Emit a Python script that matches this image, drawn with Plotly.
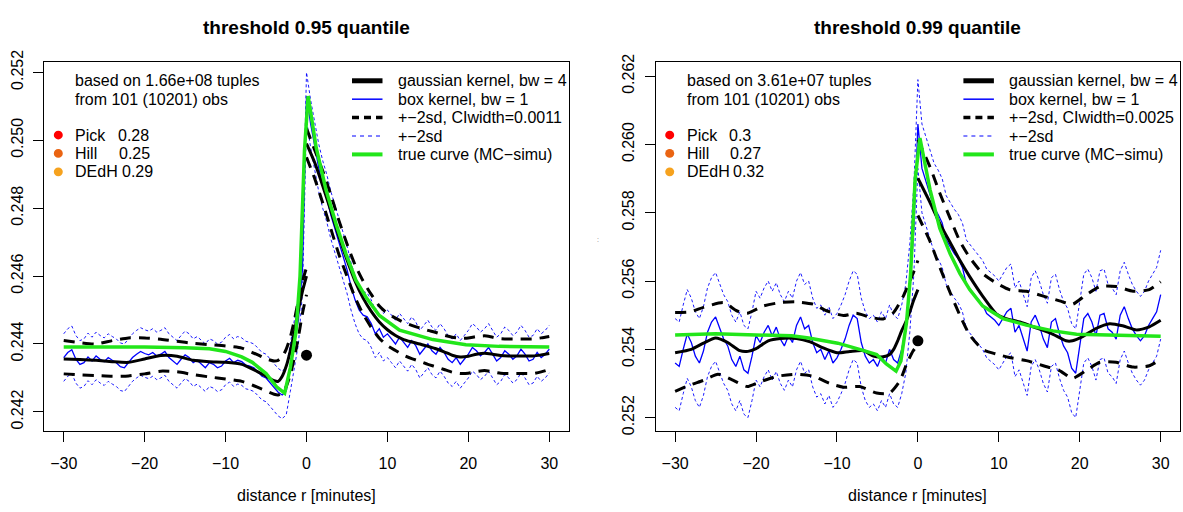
import plotly.graph_objects as go

W, H = 1183, 512
FONT = "Liberation Sans, Arial, Helvetica, sans-serif"

# ------------------------------------------------------------------
# DATA
# ------------------------------------------------------------------
# common grid of the box-kernel estimate (minutes)
box_r = [i * 0.5 for i in range(-60, 61)]

# ---------- threshold 0.95 quantile ----------
box95 = [
    0.24360, 0.24375, 0.24383, 0.24355, 0.24340, 0.24345, 0.24362, 0.24350, 0.24365, 0.24355,
    0.24348, 0.24360, 0.24352, 0.24345, 0.24333, 0.24330, 0.24345, 0.24360, 0.24370, 0.24378,
    0.24372, 0.24368, 0.24375, 0.24365, 0.24370, 0.24378, 0.24360, 0.24350, 0.24340, 0.24355,
    0.24368, 0.24360, 0.24345, 0.24352, 0.24340, 0.24330, 0.24345, 0.24340, 0.24330, 0.24335,
    0.24350, 0.24358, 0.24345, 0.24352, 0.24348, 0.24338, 0.24335, 0.24330, 0.24318, 0.24305,
    0.24300, 0.24285, 0.24272, 0.24258, 0.24250, 0.24262, 0.24330, 0.24400, 0.24470, 0.24620,
    0.25130,
    0.25050, 0.24980, 0.24920, 0.24870, 0.24830, 0.24780, 0.24740, 0.24700, 0.24660, 0.24620,
    0.24570, 0.24530, 0.24500, 0.24485, 0.24480, 0.24460, 0.24430, 0.24445, 0.24420, 0.24430,
    0.24415, 0.24400, 0.24420, 0.24405, 0.24390, 0.24410, 0.24395, 0.24370, 0.24385, 0.24400,
    0.24380, 0.24370, 0.24390, 0.24375, 0.24355, 0.24345, 0.24360, 0.24340, 0.24355, 0.24370,
    0.24390, 0.24380, 0.24365, 0.24375, 0.24390, 0.24370, 0.24350, 0.24360, 0.24380, 0.24370,
    0.24355, 0.24365, 0.24385, 0.24370, 0.24350, 0.24355, 0.24375, 0.24360, 0.24370, 0.24385,
]
box95_2sd = 0.0007

g95_left_r = [-30, -28, -26, -24, -22, -20, -18, -16, -14, -12, -10, -8, -7, -6, -5, -4,
              -3.5, -3, -2.5, -2, -1.5, -1, -0.5, 0]
g95_left = [0.24356, 0.24354, 0.24352, 0.24348, 0.24346, 0.24356, 0.24366, 0.24364, 0.24352,
            0.24348, 0.24346, 0.24340, 0.24330, 0.24318, 0.24305, 0.24292, 0.24290, 0.24305,
            0.24335, 0.24380, 0.24435, 0.24500, 0.24555, 0.24600]
g95_left_up = [0.24410, 0.24404, 0.24400, 0.24410, 0.24418, 0.24418, 0.24414, 0.24408, 0.24402,
               0.24398, 0.24394, 0.24388, 0.24378, 0.24368, 0.24356, 0.24350, 0.24352, 0.24362,
               0.24385, 0.24420, 0.24470, 0.24530, 0.24585, 0.24625]
g95_left_lo = [0.24312, 0.24309, 0.24307, 0.24305, 0.24306, 0.24312, 0.24320, 0.24318, 0.24310,
               0.24303, 0.24297, 0.24290, 0.24282, 0.24272, 0.24262, 0.24252, 0.24250, 0.24255,
               0.24275, 0.24310, 0.24360, 0.24420, 0.24490, 0.24545]

g95_right_r = list(range(0, 31))
g95_right = [0.24990, 0.24935, 0.24866, 0.24793, 0.24717, 0.24648, 0.24585, 0.24535, 0.24496,
             0.24465, 0.24442, 0.24425, 0.24413, 0.24406, 0.24400, 0.24393, 0.24386, 0.24377,
             0.24367, 0.24362, 0.24364, 0.24370, 0.24373, 0.24370, 0.24366, 0.24365, 0.24365,
             0.24365, 0.24365, 0.24368, 0.24372]
g95_right_up = [0.25035, 0.24972, 0.24910, 0.24840, 0.24764, 0.24695, 0.24633, 0.24585, 0.24546,
                0.24512, 0.24490, 0.24476, 0.24464, 0.24455, 0.24447, 0.24440, 0.24434, 0.24426,
                0.24420, 0.24417, 0.24418, 0.24422, 0.24424, 0.24420, 0.24416, 0.24415, 0.24415,
                0.24415, 0.24415, 0.24418, 0.24422]
g95_right_lo = [0.24950, 0.24888, 0.24816, 0.24740, 0.24664, 0.24600, 0.24537, 0.24488, 0.24449,
                0.24417, 0.24395, 0.24381, 0.24367, 0.24357, 0.24349, 0.24340, 0.24333, 0.24325,
                0.24317, 0.24313, 0.24314, 0.24319, 0.24322, 0.24318, 0.24314, 0.24313, 0.24313,
                0.24313, 0.24313, 0.24318, 0.24325]

true95_r = [-30, -25, -20, -15, -12, -10, -8, -6.7, -5, -3.7, -2.7, -2.0, -1.3, -0.8, -0.5,
            -0.25, 0.2, 1.2, 2.4, 3.7, 4.9, 6.1, 7.4, 9, 11.5, 15.6, 19.7, 23.8, 30]
true95 = [0.24391, 0.24392, 0.24391, 0.24389, 0.24386, 0.24378, 0.24362, 0.24346, 0.24313,
          0.24274, 0.24255, 0.24330, 0.24436, 0.24600, 0.24780, 0.24970, 0.25130, 0.24978,
          0.24855, 0.24750, 0.24664, 0.24588, 0.24536, 0.24484, 0.24441, 0.24413, 0.24398,
          0.24393, 0.24391]
obs95_r, obs95 = [0], [0.24367]

# ---------- threshold 0.99 quantile ----------
box99 = [
    0.25360, 0.25350, 0.25400, 0.25445, 0.25420, 0.25380, 0.25360, 0.25395, 0.25450, 0.25480,
    0.25495, 0.25460, 0.25430, 0.25410, 0.25370, 0.25350, 0.25380, 0.25340, 0.25330, 0.25380,
    0.25440, 0.25420, 0.25450, 0.25470, 0.25440, 0.25465, 0.25430, 0.25410, 0.25440, 0.25420,
    0.25470, 0.25495, 0.25460, 0.25470, 0.25420, 0.25390, 0.25400, 0.25370, 0.25395, 0.25360,
    0.25375, 0.25400, 0.25430, 0.25470, 0.25500, 0.25490, 0.25420, 0.25380, 0.25360, 0.25370,
    0.25350, 0.25380, 0.25360, 0.25400, 0.25370, 0.25360, 0.25400, 0.25460, 0.25580, 0.25750,
    0.26060,
    0.25930, 0.25890, 0.25850, 0.25815, 0.25795, 0.25770, 0.25720, 0.25700, 0.25680, 0.25665,
    0.25640, 0.25590, 0.25575, 0.25560, 0.25545, 0.25530, 0.25505, 0.25495, 0.25485, 0.25470,
    0.25490, 0.25510, 0.25520, 0.25450, 0.25470, 0.25430, 0.25395, 0.25480, 0.25500, 0.25470,
    0.25430, 0.25405, 0.25480, 0.25490, 0.25445, 0.25410, 0.25390, 0.25345, 0.25330, 0.25410,
    0.25490, 0.25505, 0.25480, 0.25440, 0.25500, 0.25505, 0.25460, 0.25450, 0.25430, 0.25500,
    0.25525, 0.25490, 0.25460, 0.25440, 0.25425, 0.25440, 0.25470, 0.25490, 0.25510, 0.25560,
]
box99_2sd = 0.0013

g99_left_r = [-30, -28, -26.5, -25, -23.5, -22, -21, -20, -18.5, -17, -15, -13.3, -11.7, -10,
              -8.4, -6.7, -5.5, -4.3, -3.5, -3, -2.5, -2, -1.5, -1, -0.5, 0]
g99_left = [0.25390, 0.25400, 0.25418, 0.25433, 0.25420, 0.25396, 0.25394, 0.25402, 0.25425,
            0.25432, 0.25432, 0.25422, 0.25404, 0.25390, 0.25394, 0.25396, 0.25380, 0.25378,
            0.25385, 0.25400, 0.25425, 0.25455, 0.25480, 0.25510, 0.25545, 0.25575]
g99_left_up_r = [-30, -28.1, -26.5, -24, -22.4, -21.1, -19.1, -17, -15, -12.9, -11.3, -9.2,
                 -7.6, -5.9, -4.3, -3, -1.8, -0.6, 0]
g99_left_up = [0.25508, 0.25510, 0.25523, 0.25537, 0.25513, 0.25506, 0.25527, 0.25537, 0.25539,
               0.25532, 0.25513, 0.25499, 0.25506, 0.25494, 0.25489, 0.25508, 0.25556, 0.25622,
               0.25660]
g99_left_lo_r = [-30, -28.1, -26.5, -24.7, -22.8, -21.1, -19.5, -17.4, -15, -12.9, -10.9, -9.2,
                 -7.2, -5.1, -3.5, -2.2, -1.4, -0.6, 0]
g99_left_lo = [0.25277, 0.25296, 0.25309, 0.25327, 0.25309, 0.25291, 0.25305, 0.25321, 0.25327,
               0.25321, 0.25300, 0.25289, 0.25291, 0.25272, 0.25272, 0.25309, 0.25357, 0.25395,
               0.25414]

g99_right_r = [0, 1.5, 2.7, 4.0, 5.2, 6.4, 8.0, 9.7, 10.9, 12.6, 14.6, 16.7, 18.3, 19.1, 20.4,
               22, 23.7, 25.3, 27, 28.6, 30]
g99_right = [0.25901, 0.25830, 0.25769, 0.25712, 0.25660, 0.25613, 0.25556, 0.25504, 0.25490,
             0.25480, 0.25463, 0.25444, 0.25425, 0.25425, 0.25438, 0.25461, 0.25475, 0.25469,
             0.25457, 0.25466, 0.25485]
g99_right_band_r = [0, 1.5, 2.7, 4.0, 5.2, 6.4, 8.0, 9.7, 11.3, 13.4, 15.5, 17.5, 19.1, 20.8,
                    22.5, 24.5, 26.6, 28.6, 30]
g99_right_up = [0.26014, 0.25934, 0.25858, 0.25783, 0.25716, 0.25669, 0.25622, 0.25594, 0.25575,
                0.25570, 0.25556, 0.25542, 0.25532, 0.25560, 0.25584, 0.25584, 0.25570, 0.25575,
                0.25598]
g99_right_lo = [0.25792, 0.25716, 0.25641, 0.25565, 0.25499, 0.25442, 0.25400, 0.25386, 0.25376,
                0.25367, 0.25352, 0.25338, 0.25315, 0.25338, 0.25362, 0.25362, 0.25348, 0.25352,
                0.25371]

true99_r = [-30, -25, -20, -15.6, -13.5, -9.9, -7.1, -5.1, -3.9, -2.7, -2.1, -1.4, -0.9, -0.6,
            -0.35, 0.25, 1.5, 2.7, 4.0, 5.2, 6.4, 8.0, 10.5, 13.4, 16.7, 19.6, 23.7, 30]
true99 = [0.25442, 0.25446, 0.25442, 0.25440, 0.25433, 0.25418, 0.25399, 0.25385, 0.25357,
          0.25336, 0.25366, 0.25480, 0.25622, 0.25764, 0.25896, 0.26019, 0.25868, 0.25755,
          0.25679, 0.25622, 0.25575, 0.25527, 0.25490, 0.25471, 0.25454, 0.25444, 0.25442,
          0.25438]
obs99_r, obs99 = [0], [0.25425]

# annotations text
titles = ["threshold 0.95 quantile", "threshold 0.99 quantile"]
xlab = "distance r [minutes]"
tuples_txt = ["based on 1.66e+08 tuples", "based on 3.61e+07 tuples"]
obs_txt = "from 101 (10201) obs"
est_names = ["Pick", "Hill", "DEdH"]
est_vals = [["0.28", "0.25", "0.29"], ["0.3", "0.27", "0.32"]]
est_cols = ["#FF0000", "#EA6412", "#F6A21E"]
leg_labels = [
    ["gaussian kernel, bw = 4", "box kernel, bw = 1", "+\u22122sd, CIwidth=0.0011",
     "+\u22122sd", "true curve (MC\u2212simu)"],
    ["gaussian kernel, bw = 4", "box kernel, bw = 1", "+\u22122sd, CIwidth=0.0025",
     "+\u22122sd", "true curve (MC\u2212simu)"],
]
x_ticks = [-30, -20, -10, 0, 10, 20, 30]
y_ticks = [[0.242, 0.244, 0.246, 0.248, 0.250, 0.252],
           [0.252, 0.254, 0.256, 0.258, 0.260, 0.262]]

# ------------------------------------------------------------------
# STYLE / LAYOUT
# ------------------------------------------------------------------
BLUE = "#0000FF"
GREEN = "#22E61A"

# plot boxes in pixels (left, right, top, bottom)
boxes = [(44.3, 568.7, 51.7, 432.3), (655.7, 1180.1, 51.7, 432.3)]
y_ranges = [[0.241444, 0.252302], [0.251614, 0.262414]]
x_range = [-32.4, 32.4]


def px(x):
    return x / W


def py(y):
    return 1 - y / H


fig = go.Figure()

panels = [
    dict(box=box95, sd=box95_2sd,
         gl=(g95_left_r, g95_left, g95_left_r, g95_left_up, g95_left_r, g95_left_lo),
         gr=(g95_right_r, g95_right, g95_right_r, g95_right_up, g95_right_r, g95_right_lo),
         tr=(true95_r, true95), ob=(obs95_r, obs95)),
    dict(box=box99, sd=box99_2sd,
         gl=(g99_left_r, g99_left, g99_left_up_r, g99_left_up, g99_left_lo_r, g99_left_lo),
         gr=(g99_right_r, g99_right, g99_right_band_r, g99_right_up, g99_right_band_r, g99_right_lo),
         tr=(true99_r, true99), ob=(obs99_r, obs99)),
]

for i, p in enumerate(panels):
    xa = "x" if i == 0 else "x2"
    ya = "y" if i == 0 else "y2"
    up = [v + p["sd"] for v in p["box"]]
    lo = [v - p["sd"] for v in p["box"]]
    # box kernel +-2sd (blue dotted)
    for band in (up, lo):
        fig.add_trace(go.Scatter(x=box_r, y=band, mode="lines", xaxis=xa, yaxis=ya,
                                 line=dict(color=BLUE, width=0.9, dash="3px,2.5px"),
                                 hoverinfo="skip"))
    # box kernel
    fig.add_trace(go.Scatter(x=box_r, y=p["box"], mode="lines", xaxis=xa, yaxis=ya,
                             line=dict(color=BLUE, width=1.3), hoverinfo="skip"))
    # gaussian kernel + bands, left and right of 0
    for seg in (p["gl"], p["gr"]):
        rr, m, ur, u, lr, l = seg
        for bx, by in ((ur, u), (lr, l)):
            fig.add_trace(go.Scatter(x=bx, y=by, mode="lines", xaxis=xa, yaxis=ya,
                                     line=dict(color="black", width=3, dash="11px,8px",
                                               shape="spline", smoothing=0.6),
                                     hoverinfo="skip"))
        fig.add_trace(go.Scatter(x=rr, y=m, mode="lines", xaxis=xa, yaxis=ya,
                                 line=dict(color="black", width=3, shape="spline",
                                           smoothing=0.6),
                                 hoverinfo="skip"))
    # true curve
    fig.add_trace(go.Scatter(x=p["tr"][0], y=p["tr"][1], mode="lines", xaxis=xa, yaxis=ya,
                             line=dict(color=GREEN, width=3.5), hoverinfo="skip"))
    # observed point
    fig.add_trace(go.Scatter(x=p["ob"][0], y=p["ob"][1], mode="markers", xaxis=xa, yaxis=ya,
                             marker=dict(color="black", size=11), hoverinfo="skip"))

shapes = []
annotations = []
for i, (bl, br, bt, bb) in enumerate(boxes):
    cx = (bl + br) / 2
    annotations.append(dict(text="<b>" + titles[i] + "</b>", x=px(cx), y=py(16),
                            xref="paper", yref="paper", showarrow=False,
                            xanchor="center", yanchor="middle",
                            font=dict(family=FONT, size=19, color="black")))
    annotations.append(dict(text=xlab, x=px(cx), y=py(499), xref="paper", yref="paper",
                            showarrow=False, xanchor="center", yanchor="middle",
                            font=dict(family=FONT, size=16, color="black")))
    # info text (top-left)
    tx = bl + 29
    annotations.append(dict(text=tuples_txt[i], x=px(tx), y=py(71), xref="paper", yref="paper",
                            showarrow=False, xanchor="left", yanchor="middle",
                            font=dict(family=FONT, size=16, color="black")))
    annotations.append(dict(text=obs_txt, x=px(tx), y=py(90), xref="paper", yref="paper",
                            showarrow=False, xanchor="left", yanchor="middle",
                            font=dict(family=FONT, size=16, color="black")))
    val_x = [tx + 42.5, tx + 43.3, tx + 46.3]
    for k in range(3):
        yy = 127 + 19 * k
        shapes.append(dict(type="circle", xref="paper", yref="paper",
                           x0=px(tx - 19.5), x1=px(tx - 10.5), y0=py(yy + 4.5), y1=py(yy - 4.5),
                           fillcolor=est_cols[k], line=dict(width=0)))
        annotations.append(dict(text=est_names[k], x=px(tx), y=py(yy), xref="paper",
                                yref="paper", showarrow=False, xanchor="left", yanchor="middle",
                                font=dict(family=FONT, size=16, color="black")))
        annotations.append(dict(text=est_vals[i][k], x=px(val_x[k]), y=py(yy), xref="paper",
                                yref="paper", showarrow=False, xanchor="left", yanchor="middle",
                                font=dict(family=FONT, size=16, color="black")))
    # curve legend (top-right)
    lx0 = br - 216.7
    lx1 = lx0 + 30.5
    ltx = lx0 + 43.6
    styles = [dict(color="black", width=5), dict(color=BLUE, width=1.5),
              dict(color="black", width=3.5, dash="7px,5px"),
              dict(color=BLUE, width=1, dash="4px,4px"), dict(color=GREEN, width=4)]
    for k in range(5):
        yy = 71 + 19 * k
        shapes.append(dict(type="line", xref="paper", yref="paper", x0=px(lx0), x1=px(lx1),
                           y0=py(yy), y1=py(yy), line=styles[k]))
        annotations.append(dict(text=leg_labels[i][k], x=px(ltx), y=py(yy), xref="paper",
                                yref="paper", showarrow=False, xanchor="left", yanchor="middle",
                                font=dict(family=FONT, size=16, color="black")))

annotations.append(dict(text=":", x=px(597.5), y=py(235), xref="paper", yref="paper",
                        showarrow=False, font=dict(family=FONT, size=7, color="#777777")))

axis_common = dict(showline=True, mirror=True, linecolor="black", linewidth=1.3,
                   ticks="outside", ticklen=10, tickwidth=1.3, tickcolor="black",
                   showgrid=False, zeroline=False,
                   tickfont=dict(family=FONT, size=16, color="black"))

layout_axes = {}
for i, (bl, br, bt, bb) in enumerate(boxes):
    sfx = "" if i == 0 else "2"
    layout_axes["xaxis" + sfx] = dict(
        axis_common, domain=[px(bl), px(br)], range=x_range, tickvals=x_ticks,
        ticktext=[str(t).replace("-", "\u2212") for t in x_ticks],
        anchor="y" + sfx, ticklabelstandoff=8)
    layout_axes["yaxis" + sfx] = dict(
        axis_common, domain=[py(bb), py(bt)], range=y_ranges[i], tickvals=y_ticks[i],
        ticktext=["%.3f" % t for t in y_ticks[i]], tickangle=-90,
        anchor="x" + sfx, ticklabelstandoff=4)

fig.update_layout(
    width=W, height=H, autosize=False,
    margin=dict(l=0, r=0, t=0, b=0),
    paper_bgcolor="white", plot_bgcolor="white",
    showlegend=False,
    shapes=shapes, annotations=annotations,
    **layout_axes,
)

fig.write_html("out.html", config={"displayModeBar": False})
